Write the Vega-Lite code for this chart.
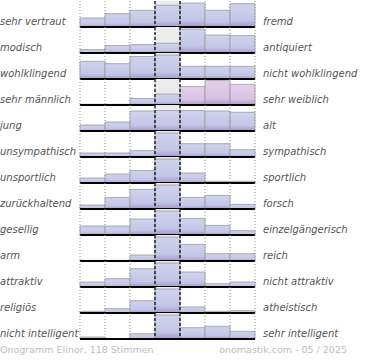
{
  "$schema": "https://vega.github.io/schema/vega-lite/v6.json",
  "padding": 0,
  "background": "white",
  "bounds": "flush",
  "config": {"view": {"stroke": null}, "font": "DejaVu Sans"},
  "datasets": {
    "items": [
      {"row": 1, "left": "sehr vertraut", "right": "fremd"},
      {"row": 2, "left": "modisch", "right": "antiquiert"},
      {"row": 3, "left": "wohlklingend", "right": "nicht wohlklingend"},
      {"row": 4, "left": "sehr männlich", "right": "sehr weiblich"},
      {"row": 5, "left": "\u00a0jung", "right": "alt"},
      {"row": 6, "left": "unsympathisch", "right": "sympathisch"},
      {"row": 7, "left": "unsportlich", "right": "sportlich"},
      {"row": 8, "left": "zurückhaltend", "right": "forsch"},
      {"row": 9, "left": "gesellig", "right": "einzelgängerisch"},
      {"row": 10, "left": "arm", "right": "reich"},
      {"row": 11, "left": "attraktiv", "right": "nicht attraktiv"},
      {"row": 12, "left": "religiös", "right": "atheistisch"},
      {"row": 13, "left": "nicht intelligent", "right": "sehr intelligent"}
    ],
    "votes": [
      {"row": 1, "col": 1, "v": 9}, {"row": 1, "col": 2, "v": 13.3}, {"row": 1, "col": 3, "v": 16.7}, {"row": 1, "col": 4, "v": 21.7}, {"row": 1, "col": 5, "v": 24}, {"row": 1, "col": 6, "v": 16.7}, {"row": 1, "col": 7, "v": 23.3},
      {"row": 2, "col": 1, "v": 3.4}, {"row": 2, "col": 2, "v": 7.4}, {"row": 2, "col": 3, "v": 8.4}, {"row": 2, "col": 4, "v": 9.7}, {"row": 2, "col": 5, "v": 24}, {"row": 2, "col": 6, "v": 18}, {"row": 2, "col": 7, "v": 17.4},
      {"row": 3, "col": 1, "v": 17.7}, {"row": 3, "col": 2, "v": 15.3}, {"row": 3, "col": 3, "v": 22.5}, {"row": 3, "col": 4, "v": 24}, {"row": 3, "col": 5, "v": 12.7}, {"row": 3, "col": 6, "v": 12.7}, {"row": 3, "col": 7, "v": 12.7},
      {"row": 4, "col": 1, "v": 0.7}, {"row": 4, "col": 2, "v": 0.7}, {"row": 4, "col": 3, "v": 6.6}, {"row": 4, "col": 4, "v": 11}, {"row": 4, "col": 5, "v": 18.3}, {"row": 4, "col": 6, "v": 24.3}, {"row": 4, "col": 7, "v": 20.6},
      {"row": 5, "col": 1, "v": 6}, {"row": 5, "col": 2, "v": 9}, {"row": 5, "col": 3, "v": 20}, {"row": 5, "col": 4, "v": 20.5}, {"row": 5, "col": 5, "v": 20.5}, {"row": 5, "col": 6, "v": 20}, {"row": 5, "col": 7, "v": 18.7},
      {"row": 6, "col": 1, "v": 4}, {"row": 6, "col": 2, "v": 4}, {"row": 6, "col": 3, "v": 6.3}, {"row": 6, "col": 4, "v": 24}, {"row": 6, "col": 5, "v": 13.3}, {"row": 6, "col": 6, "v": 13.3}, {"row": 6, "col": 7, "v": 7.3},
      {"row": 7, "col": 1, "v": 5}, {"row": 7, "col": 2, "v": 9}, {"row": 7, "col": 3, "v": 12.4}, {"row": 7, "col": 4, "v": 24}, {"row": 7, "col": 5, "v": 10}, {"row": 7, "col": 6, "v": 1.7}, {"row": 7, "col": 7, "v": 1.7},
      {"row": 8, "col": 1, "v": 4}, {"row": 8, "col": 2, "v": 11.6}, {"row": 8, "col": 3, "v": 19.6}, {"row": 8, "col": 4, "v": 24}, {"row": 8, "col": 5, "v": 11.6}, {"row": 8, "col": 6, "v": 13.6}, {"row": 8, "col": 7, "v": 4.6},
      {"row": 9, "col": 1, "v": 9}, {"row": 9, "col": 2, "v": 9}, {"row": 9, "col": 3, "v": 16}, {"row": 9, "col": 4, "v": 24}, {"row": 9, "col": 5, "v": 16.6}, {"row": 9, "col": 6, "v": 9.6}, {"row": 9, "col": 7, "v": 4.3},
      {"row": 10, "col": 1, "v": 0.7}, {"row": 10, "col": 2, "v": 0.7}, {"row": 10, "col": 3, "v": 6}, {"row": 10, "col": 4, "v": 24}, {"row": 10, "col": 5, "v": 16.6}, {"row": 10, "col": 6, "v": 7.3}, {"row": 10, "col": 7, "v": 7.3},
      {"row": 11, "col": 1, "v": 5}, {"row": 11, "col": 2, "v": 8.3}, {"row": 11, "col": 3, "v": 18.3}, {"row": 11, "col": 4, "v": 24}, {"row": 11, "col": 5, "v": 15}, {"row": 11, "col": 6, "v": 3.3}, {"row": 11, "col": 7, "v": 5},
      {"row": 12, "col": 1, "v": 1.7}, {"row": 12, "col": 2, "v": 4.3}, {"row": 12, "col": 3, "v": 12.3}, {"row": 12, "col": 4, "v": 24}, {"row": 12, "col": 5, "v": 6}, {"row": 12, "col": 6, "v": 1.7}, {"row": 12, "col": 7, "v": 2.3},
      {"row": 13, "col": 1, "v": 2}, {"row": 13, "col": 2, "v": 0}, {"row": 13, "col": 3, "v": 5.3}, {"row": 13, "col": 4, "v": 24}, {"row": 13, "col": 5, "v": 11.3}, {"row": 13, "col": 6, "v": 12.7}, {"row": 13, "col": 7, "v": 7.7}
    ]
  },
  "data": {"name": "votes"},
  "transform": [
    {"lookup": "row", "from": {"data": {"name": "items"}, "key": "row", "fields": ["left", "right"]}}
  ],
  "spacing": 0,
  "facet": {"row": {"field": "row", "type": "ordinal", "header": null, "sort": "ascending"}},
  "spec": {
    "width": 175,
    "height": 26,
    "layer": [
      {
        "transform": [{"filter": "datum.col == 4"}],
        "mark": {"type": "rect", "color": "#ececec"},
        "encoding": {
          "x": {"field": "col", "type": "ordinal", "scale": {"paddingInner": 0, "paddingOuter": 0}, "axis": null}
        }
      },
      {
        "mark": {"type": "rule", "color": "#8c8c8c", "strokeDash": [1, 2], "strokeWidth": 1},
        "encoding": {"x": {"field": "col", "type": "ordinal", "bandPosition": 0}}
      },
      {
        "transform": [{"filter": "datum.col == 7"}],
        "mark": {"type": "rule", "color": "#8c8c8c", "strokeDash": [1, 2], "strokeWidth": 1},
        "encoding": {"x": {"field": "col", "type": "ordinal", "bandPosition": 1}}
      },
      {
        "transform": [{"filter": "!(datum.right == 'sehr weiblich' && datum.col >= 5)"}],
        "mark": {
          "type": "bar",
          "stroke": "#9a9a9a",
          "strokeWidth": 0.8,
          "fill": {"gradient": "linear", "x1": 0, "y1": 0, "x2": 0, "y2": 1,
            "stops": [{"offset": 0, "color": "#cfd3ed"}, {"offset": 0.7, "color": "#c3c7e7"}, {"offset": 1, "color": "#a697cd"}]}
        },
        "encoding": {
          "x": {"field": "col", "type": "ordinal"},
          "y": {"field": "v", "type": "quantitative", "scale": {"domain": [0, 26], "nice": false}, "axis": null}
        }
      },
      {
        "transform": [{"filter": "datum.right == 'sehr weiblich' && datum.col >= 5"}],
        "mark": {
          "type": "bar",
          "stroke": "#9a9a9a",
          "strokeWidth": 0.8,
          "fill": {"gradient": "linear", "x1": 0, "y1": 0, "x2": 0, "y2": 1,
            "stops": [{"offset": 0, "color": "#e4d0ea"}, {"offset": 0.7, "color": "#d8c4e3"}, {"offset": 1, "color": "#b29ad0"}]}
        },
        "encoding": {
          "x": {"field": "col", "type": "ordinal"},
          "y": {"field": "v", "type": "quantitative"}
        }
      },
      {
        "transform": [{"filter": "datum.col == 4 || datum.col == 5"}],
        "mark": {"type": "rule", "color": "#000000", "strokeDash": [3, 2], "strokeWidth": 1.2},
        "encoding": {"x": {"field": "col", "type": "ordinal", "bandPosition": 0}}
      },
      {
        "transform": [{"filter": "datum.col == 1"}],
        "mark": {"type": "rule", "color": "#000000", "strokeWidth": 2},
        "encoding": {"y": {"datum": 0}}
      },
      {
        "transform": [{"filter": "datum.col == 1"}],
        "mark": {"type": "text", "align": "left", "baseline": "alphabetic", "dx": -80, "dy": -2.5, "fontStyle": "italic", "fontSize": 10, "color": "#555555"},
        "encoding": {
          "x": {"field": "col", "type": "ordinal", "bandPosition": 0},
          "y": {"datum": 0},
          "text": {"field": "left"}
        }
      },
      {
        "transform": [{"filter": "datum.col == 7"}],
        "mark": {"type": "text", "align": "left", "baseline": "alphabetic", "dx": 8, "dy": -2.5, "fontStyle": "italic", "fontSize": 10, "color": "#555555"},
        "encoding": {
          "x": {"field": "col", "type": "ordinal", "bandPosition": 1},
          "y": {"datum": 0},
          "text": {"field": "right"}
        }
      },
      {
        "transform": [{"filter": "datum.row == 13 && datum.col == 1"}],
        "mark": {"type": "text", "align": "left", "baseline": "alphabetic", "dx": -80, "dy": 14, "fontSize": 9.5, "color": "#bdbdbd"},
        "encoding": {
          "x": {"field": "col", "type": "ordinal", "bandPosition": 0},
          "y": {"datum": 0},
          "text": {"value": "Onogramm Elinor, 118 Stimmen"}
        }
      },
      {
        "transform": [{"filter": "datum.row == 13 && datum.col == 7"}],
        "mark": {"type": "text", "align": "right", "baseline": "alphabetic", "dx": 92, "dy": 14, "fontSize": 9.5, "color": "#bdbdbd"},
        "encoding": {
          "x": {"field": "col", "type": "ordinal", "bandPosition": 1},
          "y": {"datum": 0},
          "text": {"value": "onomastik.com - 05 / 2025"}
        }
      }
    ]
  }
}
